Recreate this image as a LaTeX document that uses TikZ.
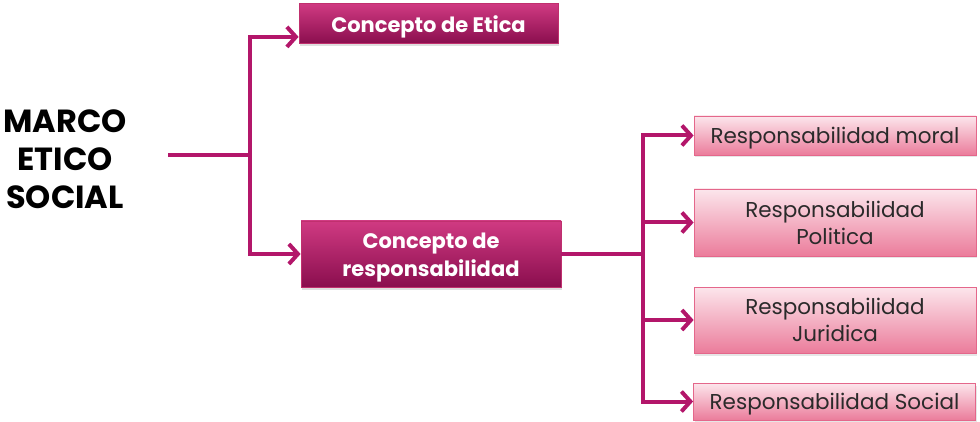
\documentclass[tikz,border=0pt]{standalone}
\usepackage{fontspec}
\setmainfont{Poppins}
\usetikzlibrary{arrows.meta,shadows,calc}
\definecolor{linec}{HTML}{B3166A}
\definecolor{darktop}{HTML}{D03A82}
\definecolor{darkbot}{HTML}{8A0E4E}
\definecolor{darkbord}{HTML}{C0306E}
\definecolor{lighttop}{HTML}{FCE6EC}
\definecolor{lightbot}{HTML}{EB7C9B}
\definecolor{lightbord}{HTML}{E4678B}
\definecolor{txtdark}{HTML}{2A2A2A}
\newcommand\boxlbl[1]{\raisebox{-3pt}[\height][\depth]{\begin{tabular}{@{}c@{}}#1\end{tabular}}}
\begin{document}
\begin{tikzpicture}[x=1pt,y=-1pt,
  darkbox/.style={draw=darkbord, line width=0.8pt, top color=darktop, bottom color=darkbot,
    text=white, font=\fontsize{21}{28}\selectfont\bfseries, align=center, inner sep=0pt,
    drop shadow={shadow xshift=1pt, shadow yshift=-2.5pt, opacity=0.25}},
  lightbox/.style={draw=lightbord, line width=0.8pt, top color=lighttop, bottom color=lightbot,
    text=txtdark, font=\fontsize{21.5}{27}\selectfont, align=center, inner sep=0pt,
    minimum width=282pt,
    drop shadow={shadow xshift=1pt, shadow yshift=-2.5pt, opacity=0.2}},
  conn/.style={draw=linec, line width=4pt, line join=miter},
  arr/.style={conn, -{Straight Barb[length=9pt,width=20pt,line width=4pt]}},
  title/.style={font=\fontsize{32}{38}\selectfont\bfseries, align=center, text=black, inner sep=0pt}
]
\useasboundingbox (0,0) rectangle (980,422);
% nodes
\node[title] (marco) at (65,159) {MARCO\\ETICO\\SOCIAL};
\node[darkbox, minimum width=259pt, minimum height=40pt] (etica) at (428.5,23.5) {\boxlbl{Concepto de Etica}};
\node[darkbox, minimum width=260pt, minimum height=66pt] (resp) at (431,254) {\boxlbl{Concepto de\\responsabilidad}};
\node[lightbox, minimum height=39pt] (moral) at (835,135.5) {\boxlbl{Responsabilidad moral}};
\node[lightbox, minimum height=67pt] (pol) at (835,222.5) {\boxlbl{Responsabilidad\\Politica}};
\node[lightbox, minimum height=66pt] (jur) at (835,320) {\boxlbl{Responsabilidad\\Juridica}};
\node[lightbox, minimum height=37pt] (soc) at (834.5,401.5) {\boxlbl{Responsabilidad Social}};
% connectors
\coordinate (ms) at (168,155);
\coordinate (j1) at (250,155);
\coordinate (j2) at (643,254);
\coordinate (et) at ($(etica.south west)+(0,-7)$);
\draw[conn] (ms) -- (j1);
\draw[arr] (j1) |- (et);
\draw[arr] (j1) |- (resp.west);
\draw[conn] (resp.east) -- (j2);
\draw[arr] (j2) |- (moral.west);
\draw[arr] (j2) |- (pol.west);
\draw[arr] (j2) |- (jur.west);
\draw[arr] (j2) |- (soc.west);
\end{tikzpicture}
\end{document}
